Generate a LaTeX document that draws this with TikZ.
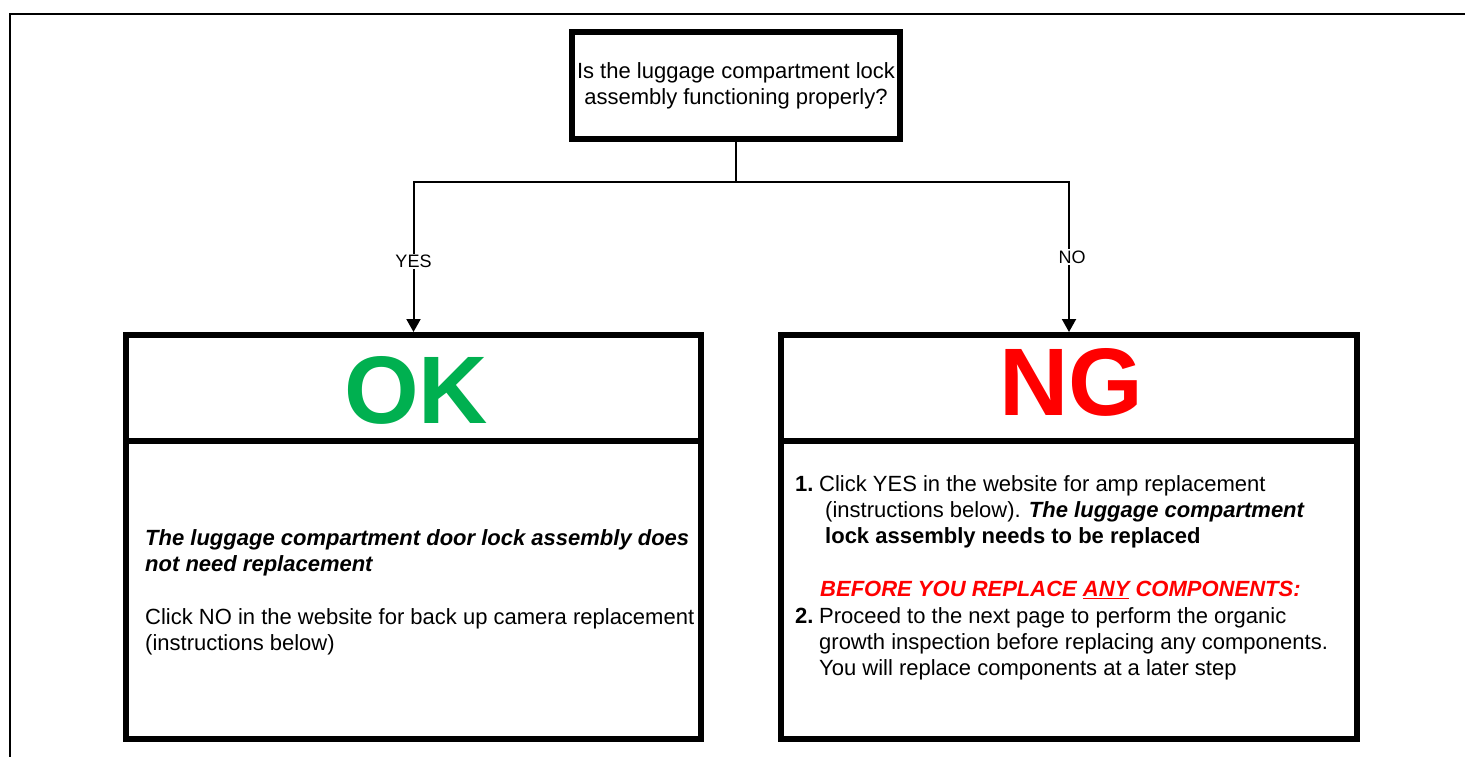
\documentclass[tikz,border=0pt]{standalone}
\usepackage{fontspec}
\setmainfont{Liberation Sans}
\usetikzlibrary{arrows.meta}
\definecolor{okgreen}{RGB}{0,176,80}
\definecolor{ngred}{RGB}{255,0,0}
\begin{document}
\begin{tikzpicture}[x=1pt,y=-1pt,
  box/.style={draw=black, line width=6pt, fill=white, inner sep=0pt},
  conn/.style={draw=black, line width=2pt},
  arr/.style={conn, -{Triangle[width=14pt,length=13pt]}},
  lbl/.style={fill=white, inner sep=1.5pt, font=\fontsize{18}{21}\selectfont},
  bodytext/.style={align=left, inner sep=0pt, anchor=north west, font=\fontsize{22}{26.4}\selectfont},
  bigtext/.style={font=\fontsize{96}{110}\selectfont\bfseries, inner sep=0pt}
]
\useasboundingbox (0,0) rectangle (1465,756);
\draw[line width=2pt] (10,770) -- (10,14) -- (1480,14);

\node[box, minimum width=328pt, minimum height=107pt, align=center,
      font=\fontsize{22}{26}\selectfont] (q) at (736,85.5)
  {Is the luggage compartment lock\\assembly functioning properly?};

\node[box, minimum width=575pt, minimum height=298pt] (okb) at (413.5,590) {};
\node[box, minimum width=575pt, minimum height=106pt] (okh) at (413.5,388) {};
\node[box, minimum width=576pt, minimum height=298pt] (ngb) at (1069,590) {};
\node[box, minimum width=576pt, minimum height=106pt] (ngh) at (1069,388) {};

\node[bigtext, text=okgreen] (ok) at (416,390) {OK};
\node[bigtext, text=ngred] (ng) at (1071.5,382.5) {NG};

\coordinate (j) at (736,182);
\draw[conn] (q.south) -- (j);
\draw[arr] (j) -| node[lbl, pos=0.765] (yes) {YES} (okh.north);
\draw[arr] (j) -| node[lbl, pos=0.75, xshift=3pt] (no) {NO} (ngh.north);

\node[bodytext] (oktxt) at (145,529)
  {\textbf{\textit{The luggage compartment door lock assembly does}}\\
   \textbf{\textit{not need replacement}}\\[26.4pt]
   Click NO in the website for back up camera replacement\\
   (instructions below)};

\node[bodytext] (ngtxt) at (795,475)
  {\makebox[24pt][l]{\textbf{1.}}Click YES in the website for amp replacement\\
   \hspace*{30pt}(instructions below). \textbf{\textit{The luggage compartment}}\\
   \hspace*{30pt}\textbf{lock assembly needs to be replaced}\\[26.4pt]
   \hspace*{25pt}\textcolor{ngred}{\bfseries\itshape BEFORE YOU REPLACE \underline{ANY} COMPONENTS:}\\
   \makebox[24pt][l]{\textbf{2.}}Proceed to the next page to perform the organic\\
   \hspace*{24pt}growth inspection before replacing any components.\\
   \hspace*{24pt}You will replace components at a later step};
\end{tikzpicture}
\end{document}
